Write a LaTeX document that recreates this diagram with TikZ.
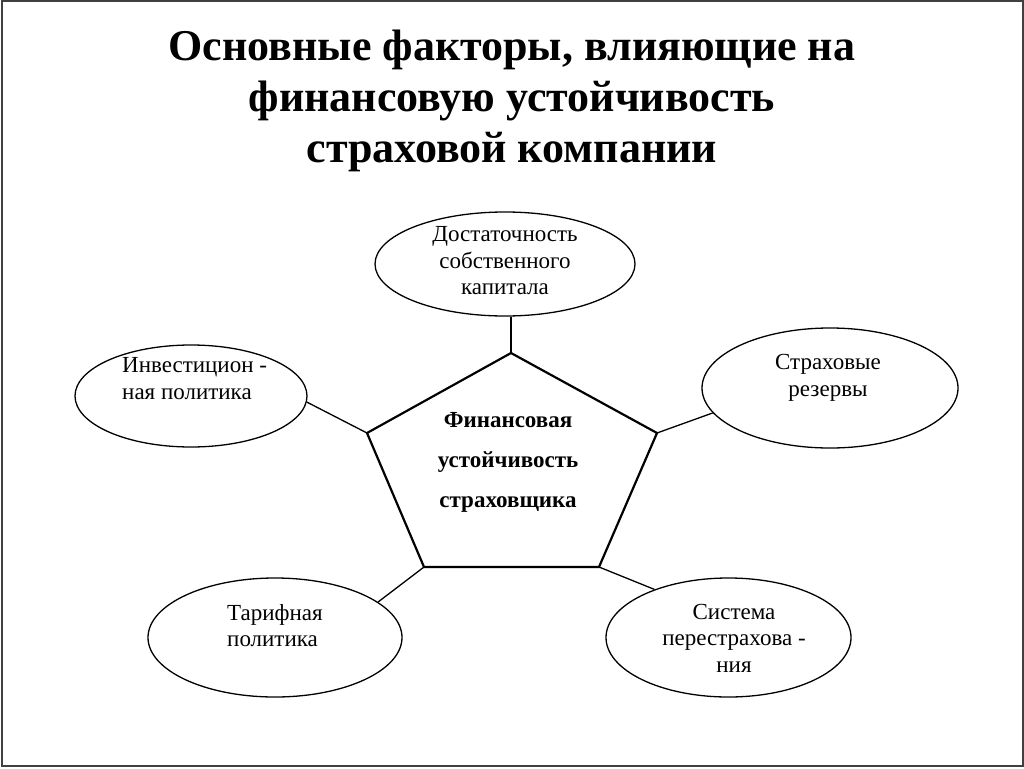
\documentclass[tikz,border=0pt]{standalone}
\usepackage{fontspec}
\setmainfont{Liberation Serif}
\usetikzlibrary{shapes.geometric}
\begin{document}
\begin{tikzpicture}[x=1pt,y=-1pt,
  oval/.style={draw=black, line width=1.3pt, ellipse, inner sep=0pt},
  lbl/.style={inner sep=0pt, font=\fontsize{23}{26.5}\selectfont},
  pentlbl/.style={inner sep=0pt, align=center, font=\bfseries\fontsize{23}{40}\selectfont},
  ttl/.style={inner sep=0pt, align=center, font=\bfseries\fontsize{44}{51}\selectfont},
  link/.style={draw=black, line width=1.3pt},
  frame/.style={draw=black!75, line width=2pt}]
\useasboundingbox (0,0) rectangle (1024,768);
\draw[frame] (1.5,1.5) rectangle (1022.5,766);

\node[ttl] (title) at (512,101) {Основные факторы, влияющие на\\финансовую устойчивость\\страховой компании};

% pentagon
\coordinate (p1) at (511,353);
\coordinate (p2) at (657,433);
\coordinate (p3) at (599,567);
\coordinate (p4) at (424,567);
\coordinate (p5) at (367,433);
\draw[black, line width=2.2pt, line join=miter] (p1) -- (p2) -- (p3) -- (p4) -- (p5) -- cycle;
\node[pentlbl] (core) at (508,462.5) {Финансовая\\устойчивость\\страховщика};

% ellipses
\node[oval, minimum width=260pt, minimum height=104pt] (cap) at (505,264) {};
\node[oval, minimum width=232pt, minimum height=102pt] (inv) at (191,396) {};
\node[oval, minimum width=256pt, minimum height=120pt] (res) at (830,388) {};
\node[oval, minimum width=254pt, minimum height=119pt] (tar) at (275,637.5) {};
\node[oval, minimum width=245pt, minimum height=119pt] (re) at (728.5,637.5) {};

% labels
\node[lbl, align=center] (capt) at (505,261) {Достаточность\\собственного\\капитала};
\node[lbl, align=left, anchor=west] (invt) at (122,378.5) {Инвестицион -\\ная политика};
\node[lbl, align=center] (rest) at (828,378) {Страховые\\резервы};
\node[lbl, align=left, anchor=west] (tart) at (227,625.5) {Тарифная\\политика};
\node[lbl, align=center] (ret) at (734,638) {Система\\перестрахова -\\ния};

% connectors
\draw[link] (p1) -- (p1 |- cap.south);
\draw[link] (p5) -- (inv.-3);
\draw[link] (p2) -- (res.192);
\draw[link] (p4) -- (tar.19);
\draw[link] (p3) -- (re.147.8);
\end{tikzpicture}
\end{document}
